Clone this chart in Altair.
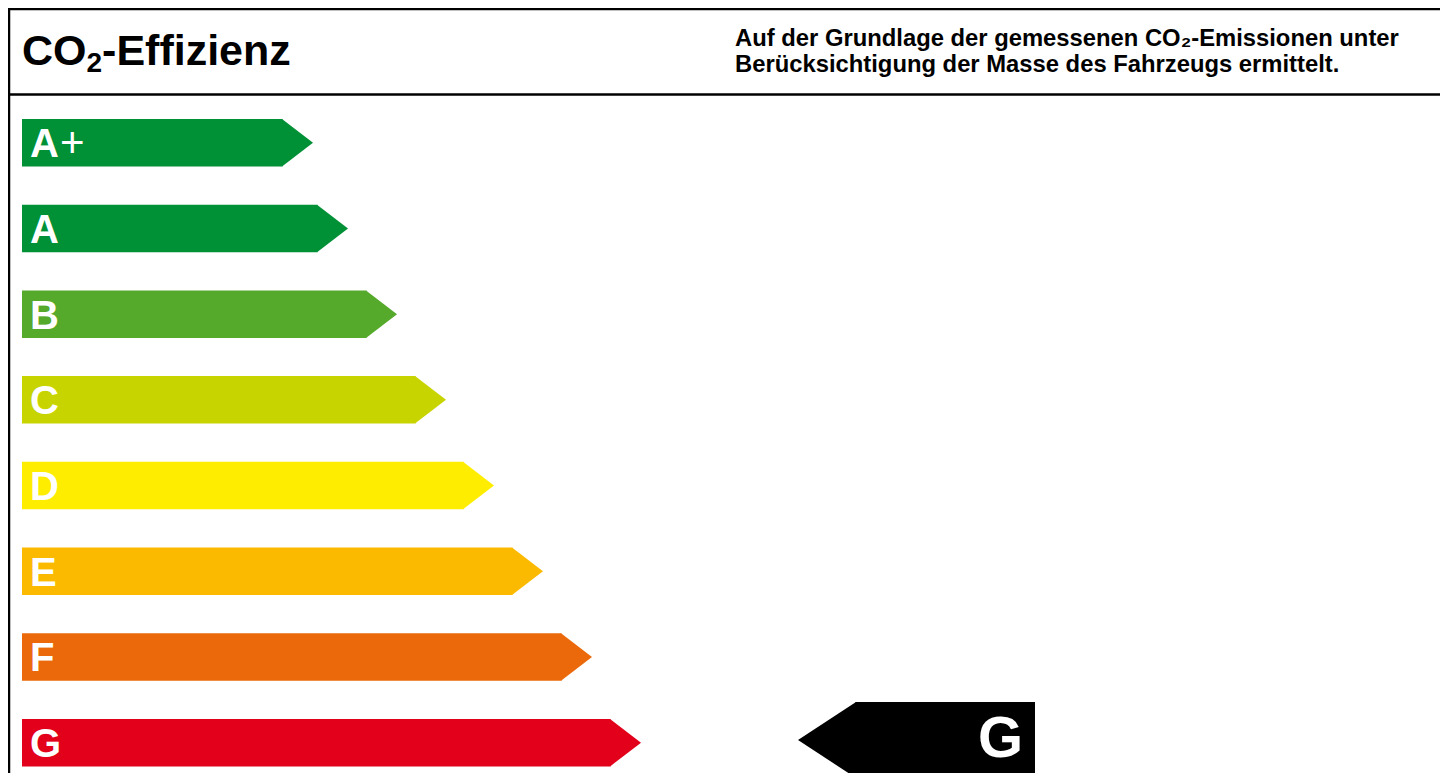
import altair as alt
import pandas as pd

# ---------------- data ----------------
classes = ["A+", "A", "B", "C", "D", "E", "F", "G"]
class_colors = ["#009036", "#009036", "#55A92B", "#C8D400", "#FFED00", "#FBBA00", "#EB690B", "#E2001A"]
arrow_tips = [313, 348, 397, 446, 494, 543, 592, 641]   # right tip of each class arrow
rated_class = "G"
title_parts = ["CO", "2", "-Effizienz"]
note_lines = ["Auf der Grundlage der gemessenen CO\u2082-Emissionen unter",
              "Berücksichtigung der Masse des Fahrzeugs ermittelt."]

# ---------------- layout ----------------
W, H = 1432, 765
X0, Y0 = 8, 8
FONT = "Liberation Sans"
ROW_TOP0, ROW_PITCH, BAR_H = 119, 85.7, 47.5
BAR_LEFT, TIP_LEN = 22, 31
LABEL_X, LABEL_SIZE = 30, 40
PTR_TIP, PTR_BODY, PTR_RIGHT, PTR_H, PTR_MID = 798, 856, 1035, 76, 740
TITLE_X, TITLE_BASE, TITLE_SIZE, SUB_SIZE, SUB_DROP = 22, 65, 43, 28, 7
NOTE_X, NOTE_BASE, NOTE_STEP, NOTE_SIZE = 735, 46, 26, 23.8
HEADER_Y = 94.5

xs = alt.Scale(domain=[X0, X0 + W], nice=False, zero=False)
ys = alt.Scale(domain=[Y0, Y0 + H], nice=False, zero=False, reverse=True)
X = lambda f: alt.X(f, scale=xs, axis=None)
Y = lambda f: alt.Y(f, scale=ys, axis=None)
cscale = alt.Scale(domain=classes, range=class_colors)

# arrows: body rectangles + triangular tips
bodies, tips, labels = [], [], []
for i, (c, tip) in enumerate(zip(classes, arrow_tips)):
    top = ROW_TOP0 + i * ROW_PITCH
    bot = top + BAR_H
    mid = (top + bot) / 2
    bodies.append(dict(cls=c, x=BAR_LEFT, x2=tip - TIP_LEN + 0.5, y=top, y2=bot))
    tips += [dict(cls=c, x=tip - TIP_LEN, y=top, y2=bot),
             dict(cls=c, x=tip, y=mid, y2=mid)]
    labels.append(dict(cls=c, letter=c[0], suffix=c[1:], x=LABEL_X,
                       sx=LABEL_X + 0.722 * LABEL_SIZE + 1, y=mid + 0.36 * LABEL_SIZE))

body_layer = alt.Chart(pd.DataFrame(bodies)).mark_rect().encode(
    x=X("x:Q"), x2="x2:Q", y=Y("y:Q"), y2="y2:Q",
    color=alt.Color("cls:N", scale=cscale, legend=None))
tip_layer = alt.Chart(pd.DataFrame(tips)).mark_area(interpolate="linear").encode(
    x=X("x:Q"), y=Y("y:Q"), y2="y2:Q",
    color=alt.Color("cls:N", scale=cscale, legend=None),
    detail="cls:N")

lab_df = pd.DataFrame(labels)
letters = alt.Chart(lab_df).mark_text(align="left", baseline="alphabetic", font=FONT,
                                      fontSize=LABEL_SIZE, fontWeight="bold", color="white").encode(
    x=X("x:Q"), y=Y("y:Q"), text="letter:N")
suffixes = alt.Chart(lab_df).mark_text(align="left", baseline="alphabetic", font=FONT,
                                       fontSize=LABEL_SIZE + 2, fontWeight="normal", color="white").encode(
    x=X("sx:Q"), y=Y("y:Q"), text="suffix:N")

# pointer for the rated class
ptr_body = alt.Chart(pd.DataFrame([dict(x=PTR_BODY - 0.5, x2=PTR_RIGHT, y=PTR_MID - PTR_H / 2, y2=PTR_MID + PTR_H / 2)])
                     ).mark_rect(color="black").encode(x=X("x:Q"), x2="x2:Q", y=Y("y:Q"), y2="y2:Q")
ptr_tip = alt.Chart(pd.DataFrame([dict(x=PTR_TIP, y=PTR_MID, y2=PTR_MID),
                                  dict(x=PTR_BODY, y=PTR_MID - PTR_H / 2, y2=PTR_MID + PTR_H / 2)])
                    ).mark_area(interpolate="linear", color="black").encode(
    x=X("x:Q"), y=Y("y:Q"), y2="y2:Q")
ptr_text = alt.Chart(pd.DataFrame([dict(t=rated_class, x=PTR_RIGHT - 12, y=PTR_MID + 17)])).mark_text(
    align="right", baseline="alphabetic", font=FONT, fontSize=58, fontWeight="bold", color="white").encode(
    x=X("x:Q"), y=Y("y:Q"), text="t:N")

# frame lines
lines_df = pd.DataFrame([
    dict(x=X0, x2=X0 + W, y=9, y2=9),
    dict(x=X0, x2=X0 + W, y=HEADER_Y, y2=HEADER_Y),
    dict(x=9, x2=9, y=Y0, y2=Y0 + H),
])
frame = alt.Chart(lines_df).mark_rule(color="black", strokeWidth=2.5).encode(
    x=X("x:Q"), x2="x2:Q", y=Y("y:Q"), y2="y2:Q")

# title with subscript
co_w = 1.5 * TITLE_SIZE
two_w = 0.556 * SUB_SIZE
title_df = pd.DataFrame([
    dict(t=title_parts[0], x=TITLE_X, y=TITLE_BASE, s="main"),
    dict(t=title_parts[1], x=TITLE_X + co_w, y=TITLE_BASE + SUB_DROP, s="sub"),
    dict(t=title_parts[2], x=TITLE_X + co_w + two_w, y=TITLE_BASE, s="main"),
])
title_main = alt.Chart(title_df).transform_filter("datum.s == 'main'").mark_text(
    align="left", baseline="alphabetic", font=FONT, fontSize=TITLE_SIZE, fontWeight="bold", color="black").encode(
    x=X("x:Q"), y=Y("y:Q"), text="t:N")
title_sub = alt.Chart(title_df).transform_filter("datum.s == 'sub'").mark_text(
    align="left", baseline="alphabetic", font=FONT, fontSize=SUB_SIZE, fontWeight="bold", color="black").encode(
    x=X("x:Q"), y=Y("y:Q"), text="t:N")

note_df = pd.DataFrame([dict(t=t, x=NOTE_X, y=NOTE_BASE + i * NOTE_STEP) for i, t in enumerate(note_lines)])
note = alt.Chart(note_df).mark_text(align="left", baseline="alphabetic", font=FONT, fontSize=NOTE_SIZE,
                                    fontWeight="bold", color="black").encode(
    x=X("x:Q"), y=Y("y:Q"), text="t:N")

chart = alt.layer(body_layer, tip_layer, letters, suffixes, ptr_body, ptr_tip, ptr_text,
                  frame, title_main, title_sub, note).properties(
    width=W, height=H, padding=0, autosize=alt.AutoSizeParams(type="none"), background="white"
).configure_view(stroke=None)

chart.save("out.html", embed_options={"renderer": "svg", "actions": False})
